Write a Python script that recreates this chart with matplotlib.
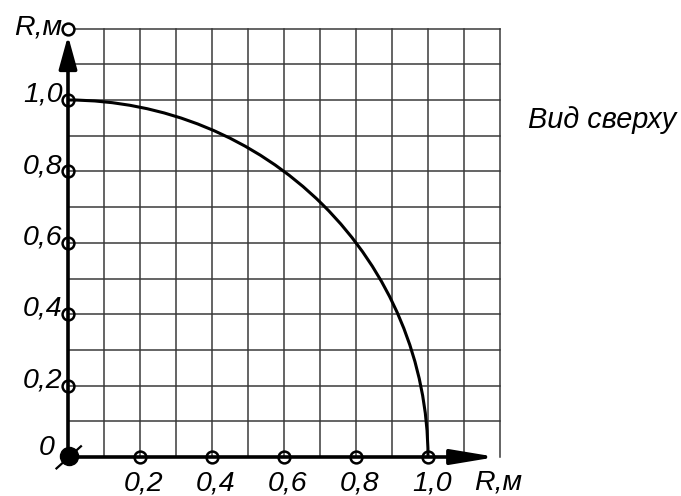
import matplotlib
matplotlib.use('Agg')
import numpy as np
import matplotlib.pyplot as plt
from matplotlib.patches import Arc

# данные
radius = 1.0                      # радиус дуги, м
grid_max = 1.2                    # граница сетки
grid_step = 0.1
ticks = [0.2, 0.4, 0.6, 0.8, 1.0]
tick_labels = ['0,2', '0,4', '0,6', '0,8', '1,0']
axis_label = 'R,м'
side_text = 'Вид сверху'

plt.rcParams['font.family'] = ['Liberation Sans', 'DejaVu Sans']
fs = 20.5

fig = plt.figure(figsize=(6.81, 4.96), dpi=100)
ax = fig.add_axes([0, 0, 1, 1])
ax.set_xlim(-68 / 360, (681 - 68) / 360)
ax.set_ylim(-39 / 357, 457 / 357)
ax.axis('off')

# сетка
lines = np.arange(grid_step, grid_max + 1e-9, grid_step)
for v in lines:
    ax.plot([v, v], [0, grid_max], color='#3a3a3a', lw=1.1, zorder=1)
    ax.plot([0, grid_max], [v, v], color='#3a3a3a', lw=1.1, zorder=1)

# оси со стрелками
ax.annotate('', xy=(1.19, 0), xytext=(0, 0),
            arrowprops=dict(arrowstyle='-|>,head_length=27,head_width=4.5',
                            mutation_scale=1, lw=2.6, color='k',
                            shrinkA=0, shrinkB=0), zorder=3)
ax.annotate('', xy=(0, 1.18), xytext=(0, 0),
            arrowprops=dict(arrowstyle='-|>,head_length=20,head_width=5.5',
                            mutation_scale=1, lw=2.6, color='k',
                            shrinkA=0, shrinkB=0), zorder=3)

# дуга
arc = Arc((0, 0), 2 * radius, 2 * radius, theta1=0, theta2=90,
          color='k', lw=2.2, zorder=4)
ax.add_patch(arc)

# маркеры на осях
ax.plot(ticks, [0] * len(ticks), 'o', ms=8.5, mfc='none', mec='k', mew=1.8, zorder=5)
ax.plot([0] * len(ticks), ticks, 'o', ms=8.5, mfc='none', mec='k', mew=1.8, zorder=5)
ax.plot([0], [grid_max], 'o', ms=8.5, mfc='white', mec='k', mew=1.8, zorder=5)

# начало координат
ax.plot([0.004], [0.002], 'o', ms=13, color='k', zorder=6)
ax.plot([-0.032, 0.036], [-0.032, 0.03], color='k', lw=1.6, zorder=6)

# подписи
for t, lab in zip(ticks, tick_labels):
    ax.text(t + 0.01, -0.075, lab, fontsize=fs, style='italic',
            ha='center', va='center')
    ax.text(-0.015, t + 0.015, lab, fontsize=fs, style='italic',
            ha='right', va='center')
ax.text(grid_max - 0.005, -0.072, axis_label, fontsize=fs, style='italic',
        ha='center', va='center')
ax.text(-0.015, grid_max + 0.003, axis_label, fontsize=fs, style='italic',
        ha='right', va='center')
ax.text(-0.036, 0.025, '0', fontsize=fs, style='italic', ha='right', va='center')
ax.text(1.278, 0.945, side_text, fontsize=20.8, style='italic', ha='left', va='center')

plt.savefig('out.png', dpi=100)
